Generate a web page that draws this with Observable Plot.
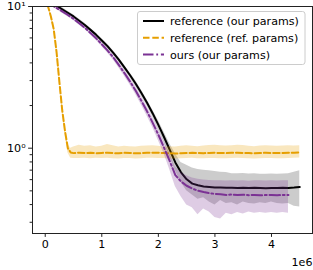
<!DOCTYPE html>
<html><head><meta charset="utf-8">
<script src="https://cdn.jsdelivr.net/npm/d3@7"></script>
<script src="https://cdn.jsdelivr.net/npm/@observablehq/plot@0.6"></script>
<style>
html,body{margin:0;padding:0;background:#fff;}
#chart{position:relative;width:313px;height:270px;font-family:"DejaVu Sans",sans-serif;}
#legend{position:absolute;left:137px;top:11px;font-family:"DejaVu Sans",sans-serif;font-size:11.1px;}
</style></head><body>
<div id="chart"></div>
<script>
// x in units of 1e6 steps
const steps = [0,0.1,0.2,0.3,0.4,0.5,0.6,0.7,0.8,0.9,1.0,1.1,1.2,1.3,1.4,1.5,1.6,1.7,1.8,1.9,2.0,2.1,2.2,2.3,2.4,2.5,2.6,2.7,2.8,2.9,3.0,3.1,3.2,3.3,3.4,3.5,3.6,3.7,3.8,3.9,4.0,4.1,4.2,4.3,4.4,4.5];
const refRefSteps = [0,0.05,0.1,0.15,0.2,0.25,0.3,0.35,0.4,0.45,0.5,0.6,0.7,0.8,0.9,1.0,1.1,1.2,1.3,1.4,1.5,1.6,1.7,1.8,1.9,2.0,2.1,2.2,2.3,2.4,2.5,2.6,2.7,2.8,2.9,3.0,3.1,3.2,3.3,3.4,3.5,3.6,3.7,3.8,3.9,4.0,4.1,4.2,4.3,4.4,4.5];
const oursSteps = [0,0.1,0.2,0.3,0.4,0.5,0.6,0.7,0.8,0.9,1.0,1.1,1.2,1.3,1.4,1.5,1.6,1.7,1.8,1.9,2.0,2.1,2.2,2.3,2.4,2.5,2.6,2.7,2.8,2.9,3.0,3.1,3.2,3.3,3.4,3.5,3.6,3.7,3.8,3.9,4.0,4.1,4.2,4.3];

const seriesNames = ["reference (our params)", "reference (ref. params)", "ours (our params)"];
const seriesColors = ["#000000", "#e69f00", "#7b3294"];

// reference (our params)
const refOurMean = [11.22,10.72,10.12,9.55,9.02,8.51,7.94,7.41,6.84,6.31,5.75,5.25,4.73,4.22,3.72,3.27,2.85,2.45,2.09,1.76,1.46,1.20,0.977,0.794,0.676,0.603,0.562,0.547,0.537,0.532,0.528,0.527,0.525,0.526,0.524,0.525,0.523,0.526,0.524,0.522,0.524,0.523,0.525,0.524,0.527,0.532];
const refOurHi = [11.53,11.02,10.40,9.82,9.27,8.75,8.17,7.62,7.03,6.49,5.93,5.43,4.90,4.37,3.85,3.40,2.99,2.57,2.20,1.86,1.57,1.30,1.08,0.912,0.794,0.759,0.724,0.708,0.70,0.692,0.684,0.676,0.673,0.661,0.66,0.662,0.658,0.66,0.656,0.655,0.658,0.654,0.657,0.66,0.676,0.692];
const refOurLo = [10.91,10.42,9.84,9.29,8.77,8.28,7.73,7.21,6.65,6.14,5.58,5.07,4.57,4.07,3.58,3.15,2.72,2.34,1.99,1.66,1.36,1.11,0.871,0.692,0.575,0.501,0.468,0.437,0.447,0.417,0.398,0.427,0.407,0.412,0.398,0.417,0.407,0.403,0.412,0.407,0.417,0.407,0.403,0.407,0.389,0.385];

// reference (ref. params)
const refRefMean = [12.0,10.0,8.51,6.92,4.79,2.95,1.86,1.32,1.0,0.933,0.923,0.93,0.925,0.928,0.922,0.926,0.93,0.924,0.921,0.927,0.925,0.92,0.923,0.927,0.93,0.928,0.925,0.92,0.918,0.921,0.925,0.927,0.924,0.922,0.926,0.928,0.925,0.923,0.927,0.93,0.926,0.924,0.921,0.925,0.928,0.926,0.923,0.925,0.928,0.93,0.932];
const refRefHi = [12.3,10.25,8.72,7.09,4.95,3.08,1.95,1.39,1.06,1.0,1.02,1.05,1.03,1.04,1.02,1.03,1.06,1.04,1.02,1.03,1.025,1.02,1.03,1.035,1.04,1.03,1.02,1.025,1.02,1.03,1.04,1.03,1.025,1.035,1.045,1.05,1.04,1.035,1.04,1.05,1.045,1.03,1.025,1.035,1.04,1.035,1.03,1.035,1.04,1.035,1.04];
const refRefLo = [11.7,9.75,8.3,6.75,4.63,2.82,1.77,1.25,0.93,0.85,0.845,0.845,0.85,0.842,0.848,0.846,0.85,0.843,0.84,0.847,0.845,0.84,0.844,0.848,0.85,0.846,0.845,0.84,0.838,0.842,0.846,0.848,0.844,0.842,0.845,0.847,0.844,0.842,0.846,0.85,0.845,0.843,0.84,0.844,0.847,0.845,0.842,0.844,0.847,0.85,0.852];

// ours (our params)
const oursMean = [10.84,10.35,9.77,9.23,8.71,8.18,7.62,7.08,6.50,5.96,5.41,4.90,4.39,3.87,3.39,2.95,2.54,2.16,1.82,1.51,1.245,1.01,0.813,0.646,0.582,0.543,0.519,0.501,0.490,0.482,0.476,0.473,0.468,0.471,0.467,0.469,0.466,0.468,0.465,0.467,0.468,0.466,0.467,0.468];
const oursHi = [11.14,10.64,10.05,9.48,8.95,8.41,7.83,7.28,6.70,6.15,5.60,5.08,4.57,4.06,3.56,3.13,2.70,2.32,1.96,1.64,1.36,1.12,0.912,0.741,0.676,0.638,0.617,0.603,0.596,0.592,0.589,0.589,0.586,0.590,0.587,0.589,0.585,0.588,0.590,0.586,0.588,0.587,0.589,0.588];
const oursLo = [10.54,10.07,9.51,8.97,8.47,7.96,7.41,6.89,6.31,5.77,5.22,4.72,4.21,3.70,3.22,2.79,2.39,2.02,1.69,1.40,1.135,0.912,0.708,0.537,0.457,0.398,0.380,0.339,0.372,0.355,0.324,0.316,0.347,0.339,0.351,0.343,0.355,0.347,0.351,0.347,0.351,0.347,0.351,0.347];

const xTicks = [0,1,2,3,4];
const yMajor = [1,10];
const yMajorLabels = ["10⁰","10¹"];
const yMinor = [0.3,0.4,0.5,0.6,0.7,0.8,0.9,2,3,4,5,6,7,8,9];
const xOffsetLabel = "1e6";

const toRows = (xs, m, lo, hi) => xs.map((x, i) => ({x, mean: m[i], lo: lo[i], hi: hi[i]}));
const dRefOur = toRows(steps, refOurMean, refOurLo, refOurHi);
const dRefRef = toRows(refRefSteps, refRefMean, refRefLo, refRefHi);
const dOurs = toRows(oursSteps, oursMean, oursLo, oursHi);

const plot = Plot.plot({
  width: 313, height: 270,
  marginLeft: 32, marginRight: 1, marginTop: 6, marginBottom: 37,
  style: {fontFamily: "DejaVu Sans", fontSize: "11.1px", color: "#000", background: "#fff", overflow: "visible"},
  x: {domain: [-0.225, 4.725]},
  y: {type: "log", domain: [0.25, 10]},
  marks: [
    Plot.areaY(dRefOur, {x: "x", y1: "lo", y2: "hi", fill: seriesColors[0], fillOpacity: 0.2, clip: true}),
    Plot.lineY(dRefOur, {x: "x", y: "mean", stroke: seriesColors[0], strokeWidth: 2, clip: true}),
    Plot.areaY(dRefRef, {x: "x", y1: "lo", y2: "hi", fill: seriesColors[1], fillOpacity: 0.25, clip: true}),
    Plot.lineY(dRefRef, {x: "x", y: "mean", stroke: seriesColors[1], strokeWidth: 2, strokeDasharray: "6.5,2.8", clip: true}),
    Plot.areaY(dOurs, {x: "x", y1: "lo", y2: "hi", fill: seriesColors[2], fillOpacity: 0.25, clip: true}),
    Plot.lineY(dOurs, {x: "x", y: "mean", stroke: seriesColors[2], strokeWidth: 2, strokeDasharray: "10.5,2.8,1.8,2.8", clip: true}),
    Plot.frame({stroke: "#222", strokeWidth: 1}),
    Plot.axisX({ticks: xTicks, tickSize: 3.9, tickPadding: 3, tickFormat: d => String(d), label: null, stroke: "#222"}),
    Plot.axisY({ticks: yMajor, tickSize: 3.9, tickPadding: 3, tickFormat: d => yMajorLabels[yMajor.indexOf(d)], label: null, stroke: "#222"}),
    Plot.axisY({ticks: yMinor, tickSize: 2.4, tickFormat: () => "", label: null, stroke: "#222"}),
    Plot.text([xOffsetLabel], {frameAnchor: "bottom-right", dy: 29, textAnchor: "end", lineAnchor: "middle", fill: "#000"})
  ]
});
const chart = document.getElementById("chart");
chart.appendChild(plot);

// legend
const ns = "http://www.w3.org/2000/svg";
const lg = document.createElementNS(ns, "svg");
lg.setAttribute("id", "legend");
lg.setAttribute("width", 169); lg.setAttribute("height", 54);
const box = document.createElementNS(ns, "rect");
Object.entries({x: 0.5, y: 0.5, width: 167.5, height: 53, rx: 2.5, fill: "#fff", "fill-opacity": 0.8, stroke: "#cccccc"}).forEach(([k, v]) => box.setAttribute(k, v));
lg.appendChild(box);
const dashes = [null, "6.5,2.8", "10.5,2.8,1.8,2.8"];
seriesNames.forEach((name, i) => {
  const cy = 10 + i * 16.8;
  const ln = document.createElementNS(ns, "line");
  Object.entries({x1: 6, x2: 27, y1: cy, y2: cy, stroke: seriesColors[i], "stroke-width": 2}).forEach(([k, v]) => ln.setAttribute(k, v));
  if (dashes[i]) ln.setAttribute("stroke-dasharray", dashes[i]);
  lg.appendChild(ln);
  const t = document.createElementNS(ns, "text");
  t.setAttribute("x", 33); t.setAttribute("y", cy + 4);
  t.textContent = name;
  lg.appendChild(t);
});
chart.appendChild(lg);
</script>
</body></html>
